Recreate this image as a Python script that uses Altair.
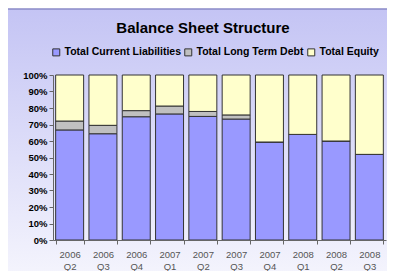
import altair as alt
import pandas as pd

periods = ["2006 Q2", "2006 Q3", "2006 Q4", "2007 Q1", "2007 Q2",
           "2007 Q3", "2007 Q4", "2008 Q1", "2008 Q2", "2008 Q3"]
current_liab = [66.7, 64.4, 74.7, 76.4, 74.9, 73.3, 59.4, 64.0, 60.0, 51.9]
long_term_debt = [5.4, 5.1, 3.7, 4.8, 3.0, 2.5, 0.0, 0.0, 0.0, 0.0]
equity = [round(100 - a - b, 1) for a, b in zip(current_liab, long_term_debt)]

series = ["Total Current Liabilities", "Total Long Term Debt", "Total Equity"]
colors = ["#9999ff", "#c0c0c0", "#ffffcc"]
title_text = "Balance Sheet Structure"

rows = []
for i, p in enumerate(periods):
    for k, (s, v) in enumerate(zip(series, [current_liab[i], long_term_debt[i], equity[i]])):
        rows.append({"period": p, "series": s, "value": v, "ord": k})
df = pd.DataFrame(rows)

one = pd.DataFrame({"a": [0]})

bg = alt.Chart(one).mark_rect(
    fill=alt.Gradient(
        gradient="linear", x1=0, y1=0, x2=0, y2=1,
        stops=[alt.GradientStop(offset=0, color="#c4c4f4"),
               alt.GradientStop(offset=1, color="#ffffff")]),
    stroke="#8a8ac8", strokeWidth=1.5,
).encode(x=alt.value(-46), x2=alt.value(400), y=alt.value(-66), y2=alt.value(260))

title = alt.Chart(one).mark_text(
    text=title_text, font="Liberation Sans", fontSize=15, fontWeight="bold",
    color="#000000", align="center", baseline="alphabetic",
).encode(x=alt.value(150), y=alt.value(-42))

bars = alt.Chart(df).mark_bar(stroke="#333333", strokeWidth=1).encode(
    x=alt.X("period:N", sort=periods, title=None,
            scale=alt.Scale(paddingInner=0.16, paddingOuter=0.08),
            axis=alt.Axis(labelAngle=0, labelExpr="split(datum.label, ' ')",
                          labelFont="Liberation Sans", labelFontSize=9.5,
                          labelColor="#555555", labelPadding=5, labelLineHeight=12,
                          tickBand="extent", tickColor="#666666", tickSize=4,
                          domainColor="#666666", zindex=1)),
    y=alt.Y("value:Q", stack="zero", title=None,
            scale=alt.Scale(domain=[0, 100], nice=False),
            axis=alt.Axis(values=list(range(0, 101, 10)), labelExpr="datum.value + '%'",
                          grid=False, labelFont="Liberation Sans", labelFontSize=9.5,
                          labelFontWeight="bold", labelColor="#000000",
                          tickColor="#666666", tickSize=4, labelPadding=2,
                          domainColor="#666666", zindex=1)),
    color=alt.Color("series:N", sort=series,
                    scale=alt.Scale(domain=series, range=colors),
                    legend=alt.Legend(title=None, orient="none", direction="horizontal",
                                      legendX=-2, legendY=-28,
                                      symbolType="square", symbolSize=49,
                                      symbolStrokeColor="#333333", symbolStrokeWidth=1,
                                      symbolOpacity=1,
                                      labelFont="Liberation Sans", labelFontSize=10.5,
                                      labelFontWeight="bold", labelColor="#000000",
                                      columnPadding=1, symbolOffset=0, labelOffset=3)),
    order=alt.Order("ord:Q"),
)

chart = alt.layer(bg, title, bars).properties(
    width=333, height=165,
    padding={"left": 45, "top": 67, "right": 1, "bottom": 31},
    autosize=alt.AutoSizeParams(type="none"),
).configure_view(stroke=None).configure(background="#ffffff")

chart.save("out.html", embed_options={"renderer": "svg", "actions": False})
